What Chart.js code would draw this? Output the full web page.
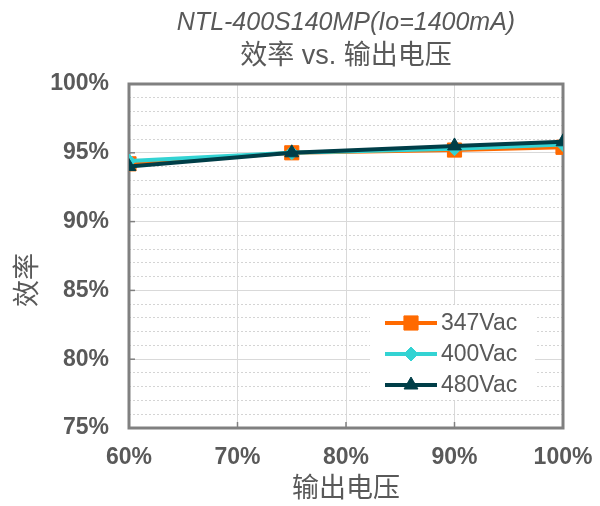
<!DOCTYPE html>
<html>
<head>
<meta charset="utf-8">
<script src="https://cdn.jsdelivr.net/npm/chart.js@4/dist/chart.umd.min.js"></script>
<style>
  html, body { margin: 0; padding: 0; background: #fff; }
  #wrap { width: 600px; height: 506px; }
</style>
</head>
<body>
<div id="wrap"><canvas id="effChart" width="600" height="506"></canvas></div>
<script>
const titleLine1 = 'NTL-400S140MP(Io=1400mA)';
const titleLine2 = '效率 vs. 输出电压';
const xTitle = '输出电压';
const yTitle = '效率';

const outputVoltage = [60, 75, 90, 100];
const eff347 = [94.2, 95.0, 95.2, 95.4];
const eff400 = [94.4, 95.0, 95.3, 95.6];
const eff480 = [94.0, 95.0, 95.5, 95.8];
const seriesLabels = ['347Vac', '400Vac', '480Vac'];

const FONT = "'Liberation Sans', Arial, 'Noto Sans CJK SC', sans-serif";
const GREY = '#595959';

const toPoints = ys => outputVoltage.map((x, i) => ({ x, y: ys[i] }));

// frame + inward tick marks
const framePlugin = {
  id: 'frame',
  beforeDatasetsDraw(chart) {
    const { ctx, chartArea: a, scales } = chart;
    ctx.save();
    ctx.strokeStyle = '#808080';
    ctx.lineWidth = 1.5;
    scales.x.ticks.forEach(t => {
      const px = scales.x.getPixelForValue(t.value);
      ctx.beginPath(); ctx.moveTo(px, a.bottom); ctx.lineTo(px, a.bottom - 6); ctx.stroke();
    });
    scales.y.ticks.forEach(t => {
      if (t.value % 5 !== 0) return;
      const py = scales.y.getPixelForValue(t.value);
      ctx.beginPath(); ctx.moveTo(a.left, py); ctx.lineTo(a.left + 6, py); ctx.stroke();
    });
    ctx.lineWidth = 3;
    ctx.strokeRect(a.left, a.top, a.right - a.left, a.bottom - a.top);
    ctx.restore();
  }
};

// titles centred over the plot, y title, legend box inside the plot
const textPlugin = {
  id: 'texts',
  afterDraw(chart) {
    const { ctx, chartArea: a } = chart;
    const cx = (a.left + a.right) / 2;
    ctx.save();
    ctx.fillStyle = GREY;
    ctx.textAlign = 'center';
    ctx.textBaseline = 'middle';
    ctx.font = 'italic 25px ' + FONT;
    ctx.fillText(titleLine1, cx, 23);
    ctx.font = '27px ' + FONT;
    ctx.fillText(titleLine2, cx, 57);

    ctx.save();
    ctx.translate(29, 280);
    ctx.rotate(-Math.PI / 2);
    ctx.font = '27px ' + FONT;
    ctx.fillText(yTitle, 0, 0);
    ctx.restore();

    // legend
    ctx.fillStyle = '#fff';
    ctx.fillRect(370, 305, 165, 95);
    const rows = [323, 354, 385];
    chart.data.datasets.forEach((ds, i) => {
      const y = rows[i];
      ctx.strokeStyle = ds.borderColor;
      ctx.lineWidth = ds.borderWidth;
      ctx.beginPath(); ctx.moveTo(385, y); ctx.lineTo(437, y); ctx.stroke();
      ctx.fillStyle = ds.pointBackgroundColor;
      ctx.strokeStyle = ds.pointBackgroundColor;
      ctx.lineWidth = 1;
      Chart.helpers.drawPoint(ctx, { pointStyle: ds.pointStyle, radius: ds.pointRadius, borderWidth: 1 }, 411, y);
      ctx.fillStyle = GREY;
      ctx.textAlign = 'left';
      ctx.font = '23px ' + FONT;
      ctx.fillText(ds.label, 441, y + 1);
    });
    ctx.restore();
  }
};

const mkSet = (label, data, color, style, r, order) => ({
  label,
  data: toPoints(data),
  borderColor: color,
  backgroundColor: color,
  pointBackgroundColor: color,
  pointBorderColor: color,
  borderWidth: 4,
  pointStyle: style,
  pointRadius: r,
  pointBorderWidth: 1,
  tension: 0,
  order
});

new Chart(document.getElementById('effChart'), {
  type: 'line',
  data: {
    datasets: [
      mkSet(seriesLabels[0], eff347, '#FF6A00', 'rect', 10, 3),
      mkSet(seriesLabels[1], eff400, '#33D3D3', 'rectRot', 7, 2),
      mkSet(seriesLabels[2], eff480, '#003E48', 'triangle', 8, 1)
    ]
  },
  options: {
    responsive: false,
    animation: false,
    layout: { padding: { top: 84, right: 37, bottom: 0, left: 0 } },
    plugins: { legend: { display: false }, title: { display: false }, tooltip: { enabled: false } },
    scales: {
      x: {
        type: 'linear',
        min: 60, max: 100,
        afterFit: s => { s.height = 78; s.paddingLeft = 0; s.paddingRight = 0; },
        ticks: {
          stepSize: 10, autoSkip: false, padding: 16, color: GREY,
          font: { family: FONT, size: 23, weight: 'bold' },
          callback: v => v + '%'
        },
        grid: { color: '#d9d9d9', lineWidth: 1, drawTicks: false },
        border: { display: false },
        title: {
          display: true, text: xTitle, color: GREY,
          font: { family: FONT, size: 27 }, padding: { top: 0, bottom: 0 }
        }
      },
      y: {
        min: 75, max: 100,
        afterFit: s => { s.width = 129; s.paddingTop = 0; s.paddingBottom = 0; },
        ticks: {
          stepSize: 1, autoSkip: false, padding: 20, color: GREY,
          font: { family: FONT, size: 23, weight: 'bold' },
          callback: v => (v % 5 === 0 ? v + '%' : '')
        },
        grid: {
          drawTicks: false, lineWidth: 1,
          color: c => (c.tick && c.tick.value % 5 === 0 ? '#d9d9d9' : '#d4d4d4')
        },
        border: {
          display: false,
          dash: c => (c.tick && c.tick.value % 5 !== 0 ? [2, 2] : [])
        },
        title: { display: false }
      }
    }
  },
  plugins: [framePlugin, textPlugin]
});
</script>
</body>
</html>
